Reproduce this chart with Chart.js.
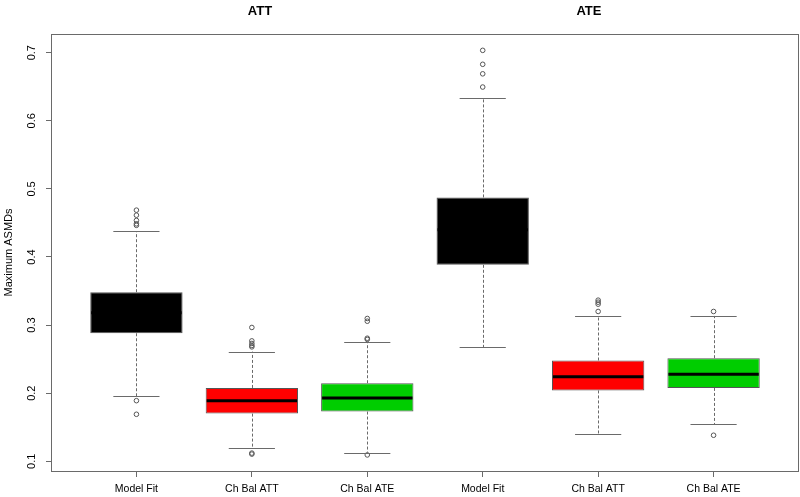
<!DOCTYPE html>
<html>
<head>
<meta charset="utf-8">
<script src="https://cdn.jsdelivr.net/npm/chart.js@4.4.1/dist/chart.umd.min.js"></script>
<style>
  body { margin: 0; background: #fff; }
  #box { display: block; }
</style>
</head>
<body>
<canvas id="box" width="800" height="497"></canvas>
<script>
// data
const categories = ['Model Fit', 'Ch Bal ATT', 'Ch Bal ATE', 'Model Fit', 'Ch Bal ATT', 'Ch Bal ATE'];
const panelTitles = ['ATT', 'ATE'];
const lowWhisker = [0.1955, 0.120, 0.1128, 0.2675, 0.1397, 0.154];
const q1 = [0.288, 0.170, 0.173, 0.3885, 0.204, 0.2077];
const medians = [0.318, 0.189, 0.193, 0.440, 0.224, 0.2278];
const q3 = [0.3483, 0.2077, 0.2146, 0.4875, 0.248, 0.2514];
const highWhisker = [0.4375, 0.261, 0.2753, 0.633, 0.3135, 0.3135];
const outliers = [
    [0.4688, 0.4614, 0.4537, 0.4487, 0.4465, 0.189, 0.169],
    [0.2965, 0.2768, 0.273, 0.270, 0.268, 0.112, 0.1105],
    [0.3097, 0.3057, 0.2807, 0.279, 0.1093],
    [0.7035, 0.683, 0.669, 0.6496],
    [0.3366, 0.3336, 0.3307, 0.320],
    [0.320, 0.1382]
];
const boxColors = ['#000000', '#ff0000', '#00cd00', '#000000', '#ff0000', '#00cd00'];
const yTicks = [0.1, 0.2, 0.3, 0.4, 0.5, 0.6, 0.7];

Chart.defaults.font.family = "'Liberation Sans', Arial, sans-serif";
Chart.defaults.color = '#000';

const lineColor = '#6a6a6a';

// whiskers, staples, medians, frame and panel titles
const boxParts = {
    id: 'boxParts',
    afterDatasetsDraw(chart) {
        const ctx = chart.ctx;
        const x = chart.scales.x;
        const y = chart.scales.y;
        ctx.save();
        categories.forEach((c, i) => {
            const cx = Math.round(x.getPixelForValue(i + 1)) + 0.5;
            const sl = x.getPixelForValue(i + 1 - 0.2);
            const sr = x.getPixelForValue(i + 1 + 0.2);
            const bl = x.getPixelForValue(i + 1 - 0.4);
            const br = x.getPixelForValue(i + 1 + 0.4);
            // dashed whiskers
            ctx.strokeStyle = lineColor;
            ctx.lineWidth = 1;
            ctx.setLineDash([3, 2]);
            ctx.beginPath();
            ctx.moveTo(cx, y.getPixelForValue(q3[i]));
            ctx.lineTo(cx, y.getPixelForValue(highWhisker[i]));
            ctx.moveTo(cx, y.getPixelForValue(q1[i]));
            ctx.lineTo(cx, y.getPixelForValue(lowWhisker[i]));
            ctx.stroke();
            // staples
            ctx.setLineDash([]);
            ctx.beginPath();
            ctx.moveTo(sl, Math.round(y.getPixelForValue(highWhisker[i])) + 0.5);
            ctx.lineTo(sr, Math.round(y.getPixelForValue(highWhisker[i])) + 0.5);
            ctx.moveTo(sl, Math.round(y.getPixelForValue(lowWhisker[i])) + 0.5);
            ctx.lineTo(sr, Math.round(y.getPixelForValue(lowWhisker[i])) + 0.5);
            ctx.stroke();
            // median
            ctx.strokeStyle = '#000';
            ctx.lineWidth = 3;
            ctx.beginPath();
            ctx.moveTo(bl + 1, y.getPixelForValue(medians[i]));
            ctx.lineTo(br - 1, y.getPixelForValue(medians[i]));
            ctx.stroke();
        });
        ctx.restore();
    },
    afterDraw(chart) {
        const ctx = chart.ctx;
        const a = chart.chartArea;
        const x = chart.scales.x;
        ctx.save();
        ctx.strokeStyle = lineColor;
        ctx.lineWidth = 1;
        ctx.strokeRect(Math.round(a.left) + 0.5, Math.round(a.top) + 0.5,
            Math.round(a.right - a.left) - 1, Math.round(a.bottom - a.top));
        ctx.fillStyle = '#000';
        ctx.font = "bold 13px 'Liberation Sans', Arial, sans-serif";
        ctx.textAlign = 'center';
        ctx.textBaseline = 'middle';
        ctx.fillText(panelTitles[0], x.getPixelForValue(2.07), 11);
        ctx.fillText(panelTitles[1], x.getPixelForValue(4.92), 11);
        ctx.restore();
    }
};

new Chart(document.getElementById('box'), {
    type: 'bar',
    data: {
        datasets: [{
            type: 'bar',
            data: categories.map((c, i) => ({x: i + 1, y: [q1[i], q3[i]]})),
            backgroundColor: boxColors,
            borderColor: '#555',
            borderWidth: 1,
            borderSkipped: false,
            categoryPercentage: 1,
            barPercentage: 0.8,
            order: 2
        }, {
            type: 'scatter',
            data: outliers.flatMap((list, i) => list.map(v => ({x: i + 1, y: v}))),
            pointStyle: 'circle',
            pointRadius: 2.3,
            borderWidth: 1,
            borderColor: '#555',
            backgroundColor: 'rgba(0,0,0,0)',
            order: 1
        }]
    },
    options: {
        responsive: false,
        animation: false,
        devicePixelRatio: 1,
        layout: {autoPadding: false, padding: {top: 34, right: 1, left: 0, bottom: 0}},
        plugins: {legend: {display: false}, tooltip: {enabled: false}},
        scales: {
            x: {
                type: 'linear',
                offset: false,
                min: 0.26,
                max: 6.74,
                afterBuildTicks: (s) => { s.ticks = categories.map((c, i) => ({value: i + 1})); },
                afterFit: (s) => { s.height = 26; s.paddingLeft = 0; s.paddingRight = 0; },
                ticks: {
                    callback: (v) => categories[v - 1],
                    maxRotation: 0,
                    minRotation: 0,
                    autoSkip: false,
                    padding: 6,
                    font: {size: 10.5}
                },
                grid: {offset: false, drawOnChartArea: false, tickLength: 6, tickColor: lineColor},
                border: {display: false}
            },
            y: {
                min: 0.0857,
                max: 0.7275,
                afterBuildTicks: (s) => { s.ticks = yTicks.map(v => ({value: v})); },
                afterFit: (s) => { s.width = 51; s.paddingTop = 0; s.paddingBottom = 0; },
                ticks: {
                    callback: (v) => v.toFixed(1),
                    minRotation: 90,
                    maxRotation: 90,
                    crossAlign: 'center',
                    padding: 6,
                    font: {size: 11}
                },
                title: {
                    display: true,
                    text: 'Maximum ASMDs',
                    font: {size: 11},
                    padding: {top: 2, bottom: 0}
                },
                grid: {drawOnChartArea: false, tickLength: 5, tickColor: lineColor},
                border: {display: false}
            }
        }
    },
    plugins: [boxParts]
});
</script>
</body>
</html>
